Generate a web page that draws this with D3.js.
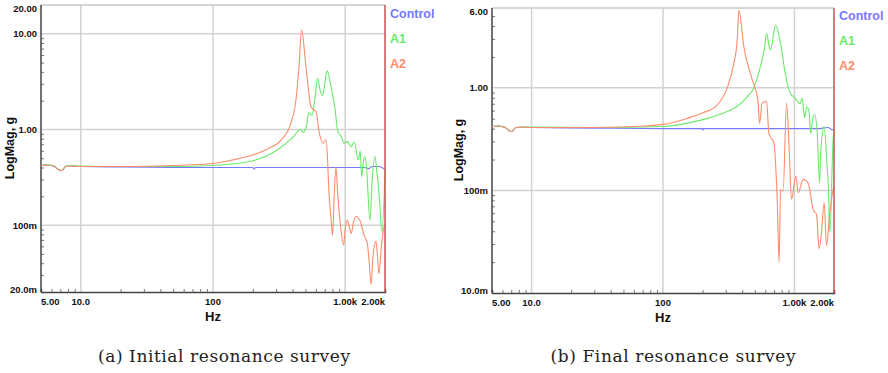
<!DOCTYPE html>
<html>
<head>
<meta charset="utf-8">
<script src="https://cdn.jsdelivr.net/npm/d3@7"></script>
<style>
  body { margin: 0; background: #fff; }
  svg text { font-family: "Liberation Sans", Arial, sans-serif; }
</style>
</head>
<body>
<div id="chart"></div>
<script>
// series names and colours
const seriesNames = ["Control", "A1", "A2"];
const seriesColors = ["#7878ff", "#6aea6a", "#ff8c6c"];

// (a) initial survey, [Hz, g]
const controlA = [[5,0.42],[5.6,0.425],[6.3,0.41],[6.8,0.38],[7.2,0.372],[7.7,0.41],[8.5,0.415],[10,0.41],[20,0.405],[50,0.402],[100,0.40],[200,0.40],[205,0.385],[210,0.40],[500,0.40],[1000,0.40],[1400,0.40],[1500,0.39],[1600,0.41],[1800,0.41],[2000,0.38]];
const a1A = [[5,0.42],[5.6,0.43],[6.3,0.415],[6.8,0.38],[7.2,0.375],[7.7,0.415],[8.5,0.42],[10,0.415],[20,0.41],[50,0.41],[100,0.42],[150,0.44],[200,0.47],[300,0.6],[400,0.82],[461,1.0],[480,0.93],[510,1.1],[530,1.5],[560,1.4],[590,2.1],[618,3.4],[645,2.6],[674,2.25],[700,3.0],[727,4.1],[790,2.6],[840,1.6],[875,0.98],[930,0.85],[982,0.72],[1040,0.75],[1104,0.66],[1170,0.74],[1254,0.48],[1300,0.6],[1330,0.32],[1370,0.45],[1409,0.52],[1450,0.4],[1538,0.112],[1600,0.3],[1679,0.52],[1740,0.35],[1809,0.2],[1896,0.084],[2000,0.36]];
const a2A = [[5,0.42],[5.6,0.425],[6.3,0.41],[6.8,0.38],[7.2,0.372],[7.7,0.41],[8.5,0.415],[10,0.41],[20,0.41],[50,0.42],[100,0.44],[150,0.49],[200,0.54],[260,0.63],[326,0.77],[388,1.16],[424,2.03],[447,4.5],[468,11],[505,4.5],[551,1.73],[580,1.6],[602,1.53],[632,0.98],[678,0.72],[716,0.78],[735,0.5],[752,0.23],[780,0.12],[802,0.078],[825,0.2],[850,0.405],[880,0.2],[920,0.1],[972,0.062],[1000,0.09],[1042,0.112],[1075,0.095],[1110,0.082],[1160,0.11],[1210,0.123],[1260,0.118],[1300,0.11],[1340,0.095],[1390,0.078],[1470,0.065],[1520,0.04],[1570,0.024],[1620,0.045],[1708,0.068],[1760,0.045],[1800,0.031],[1880,0.06],[1960,0.095],[2000,0.1]];

// (b) final survey, [Hz, g]
const controlB = [[5,0.42],[5.6,0.425],[6.3,0.41],[6.8,0.38],[7.1,0.375],[7.6,0.41],[8.5,0.415],[10,0.41],[30,0.405],[100,0.40],[200,0.40],[201,0.385],[203,0.40],[1000,0.40],[1500,0.40],[1800,0.41],[1950,0.39],[2000,0.39]];
const a1B = [[5,0.42],[5.6,0.425],[6.3,0.41],[6.8,0.38],[7.1,0.375],[7.6,0.41],[8.5,0.415],[10,0.415],[30,0.41],[100,0.42],[150,0.45],[201,0.49],[270,0.55],[330,0.61],[378,0.68],[430,0.8],[491,1.0],[550,1.6],[590,2.4],[614,3.39],[640,2.6],[658,2.34],[690,3.2],[718,4.09],[783,2.71],[850,1.4],[907,0.96],[950,0.85],[990,0.82],[1050,0.74],[1100,0.7],[1145,0.79],[1195,0.51],[1240,0.65],[1288,0.61],[1327,0.36],[1380,0.5],[1423,0.55],[1490,0.365],[1552,0.119],[1590,0.25],[1683,0.42],[1760,0.2],[1810,0.11],[1860,0.039],[1969,0.31],[2000,0.4]];
const a2B = [[5,0.42],[5.6,0.425],[6.3,0.41],[6.8,0.38],[7.1,0.375],[7.6,0.41],[8.5,0.415],[10,0.41],[30,0.41],[60,0.42],[100,0.44],[150,0.5],[201,0.57],[258,0.68],[308,1.0],[346,1.74],[367,2.92],[378,5.7],[412,2.52],[477,1.2],[527,0.76],[543,0.45],[568,0.71],[614,0.74],[639,0.36],[697,0.29],[739,0.082],[765,0.02],[784,0.102],[820,0.098],[871,0.71],[912,0.25],[950,0.082],[1025,0.137],[1068,0.095],[1165,0.128],[1271,0.118],[1388,0.065],[1473,0.058],[1541,0.027],[1607,0.039],[1683,0.076],[1754,0.029],[1859,0.061],[1969,0.102],[2000,0.11]];

// tick labels
const xTicks = [5, 10, 100, 1000, 2000];
const xTickLabels = ["5.00", "10.0", "100", "1.00k", "2.00k"];
const yTicksA = [20, 10, 1, 0.1, 0.02];
const yTickLabelsA = ["20.00", "10.00", "1.00", "100m", "20.0m"];
const yTicksB = [6, 1, 0.1, 0.01];
const yTickLabelsB = ["6.00", "1.00", "100m", "10.0m"];

const svg = d3.select("#chart").append("svg")
  .attr("width", 888)
  .attr("height", 373);

function drawPanel(p) {
  const g = svg.append("g");
  const x = d3.scaleLog().domain([5, 2000]).range([p.left, p.right]);
  const y = d3.scaleLog().domain(p.yDomain).range([p.bottom, p.top]);

  // grid at decades
  g.selectAll(".vgrid").data([10, 100, 1000]).enter().append("line")
    .attr("x1", d => x(d)).attr("x2", d => x(d))
    .attr("y1", p.top).attr("y2", p.bottom)
    .attr("stroke", "#d2d2d2").attr("stroke-width", 1.5);
  g.selectAll(".hgrid").data(p.yGrid).enter().append("line")
    .attr("x1", p.left).attr("x2", p.right)
    .attr("y1", d => y(d)).attr("y2", d => y(d))
    .attr("stroke", "#d2d2d2").attr("stroke-width", 1.5);
  g.append("line")
    .attr("x1", p.left).attr("x2", p.right)
    .attr("y1", p.top).attr("y2", p.top)
    .attr("stroke", "#c8c8c8").attr("stroke-width", 1.5);

  // minor ticks, drawn inside
  const xMinor = [];
  for (let dec = 1; dec <= 1000; dec *= 10)
    for (let k = 2; k <= 9; k++) {
      const v = k * dec;
      if (v > 5 && v < 2000 && v !== 10 && v !== 100 && v !== 1000) xMinor.push(v);
    }
  const xAxis = d3.axisBottom(x).tickValues(xMinor).tickSize(-3).tickFormat("");
  g.append("g").attr("transform", `translate(0,${p.bottom})`).call(xAxis)
    .call(s => s.selectAll(".tick line").attr("stroke", "#777"));

  const yMinor = [];
  for (let dec = 0.001; dec <= 10; dec *= 10)
    for (let k = 2; k <= 9; k++) {
      const v = +(k * dec).toPrecision(3);
      if (v > p.yDomain[0] && v < p.yDomain[1]) yMinor.push(v);
    }
  const yAxis = d3.axisLeft(y).tickValues(yMinor).tickSize(-3).tickFormat("");
  g.append("g").attr("transform", `translate(${p.left},0)`).call(yAxis)
    .call(s => s.selectAll(".tick line").attr("stroke", "#777"))
    .call(s => s.select(".domain").remove());

  // main axis lines
  g.append("line")
    .attr("x1", p.left).attr("x2", p.left).attr("y1", p.top).attr("y2", p.bottom)
    .attr("stroke", "#444").attr("stroke-width", 1.5);
  g.select(".domain").attr("stroke", "#444").attr("stroke-width", 1.5);

  // series
  const line = d3.line()
    .x(d => x(d[0]))
    .y(d => y(d[1]))
    .curve(d3.curveMonotoneX);
  p.series.forEach((s, i) => {
    g.append("path")
      .datum(s)
      .attr("fill", "none")
      .attr("stroke", seriesColors[i])
      .attr("stroke-width", 1.1)
      .attr("d", line);
  });

  // right red border
  g.append("line")
    .attr("x1", p.right).attr("x2", p.right).attr("y1", p.top).attr("y2", p.bottom)
    .attr("stroke", "#c85050").attr("stroke-width", 1.5);

  // x tick labels
  g.selectAll(".xl").data(xTicks).enter().append("text")
    .attr("x", d => x(d))
    .attr("y", p.bottom + 13)
    .attr("text-anchor", (d, i) => i === 0 ? "start" : (i === xTicks.length - 1 ? "end" : "middle"))
    .attr("font-size", 9.5).attr("font-weight", "bold").attr("fill", "#111")
    .text((d, i) => xTickLabels[i]);

  // y tick labels
  g.selectAll(".yl").data(p.yTicks).enter().append("text")
    .attr("x", p.left - 4)
    .attr("y", (d, i) => {
      let yy = y(d) + 3.5;
      if (i === 0) yy = Math.max(yy, p.top + 7);
      if (i === p.yTicks.length - 1) yy = Math.min(yy, p.bottom + 1);
      return yy;
    })
    .attr("text-anchor", "end")
    .attr("font-size", 9.5).attr("font-weight", "bold").attr("fill", "#111")
    .text((d, i) => p.yTickLabels[i]);

  // axis titles
  g.append("text")
    .attr("x", (p.left + p.right) / 2).attr("y", p.bottom + 29)
    .attr("text-anchor", "middle")
    .attr("font-size", 13).attr("font-weight", "bold").attr("fill", "#111")
    .text("Hz");
  g.append("text")
    .attr("transform", `translate(${p.labelX},${p.labelY}) rotate(-90)`)
    .attr("text-anchor", "middle")
    .attr("font-size", 12.5).attr("font-weight", "bold").attr("fill", "#111")
    .text("LogMag, g");

  // legend
  seriesNames.forEach((n, i) => {
    g.append("text")
      .attr("x", p.right + 5).attr("y", p.legendY + i * 25)
      .attr("font-size", 12.5).attr("font-weight", "bold")
      .attr("fill", seriesColors[i])
      .text(n);
  });

  // caption
  g.append("text")
    .attr("x", p.capX).attr("y", 362)
    .attr("text-anchor", "middle")
    .attr("font-size", 17)
    .attr("textLength", p.capW)
    .attr("lengthAdjust", "spacing")
    .style("font-family", "'DejaVu Serif', serif")
    .attr("fill", "#222")
    .text(p.caption);
}

drawPanel({
  left: 41, right: 385, top: 5, bottom: 292,
  yDomain: [0.02, 20], yGrid: [10, 1, 0.1],
  yTicks: yTicksA, yTickLabels: yTickLabelsA,
  series: [controlA, a1A, a2A],
  legendY: 18, labelX: 14, labelY: 148,
  capX: 224, capW: 252, caption: "(a) Initial resonance survey"
});

drawPanel({
  left: 492, right: 834, top: 8, bottom: 293,
  yDomain: [0.01, 6], yGrid: [1, 0.1],
  yTicks: yTicksB, yTickLabels: yTickLabelsB,
  series: [controlB, a1B, a2B],
  legendY: 20, labelX: 463, labelY: 150,
  capX: 673, capW: 245, caption: "(b) Final resonance survey"
});
</script>
</body>
</html>
